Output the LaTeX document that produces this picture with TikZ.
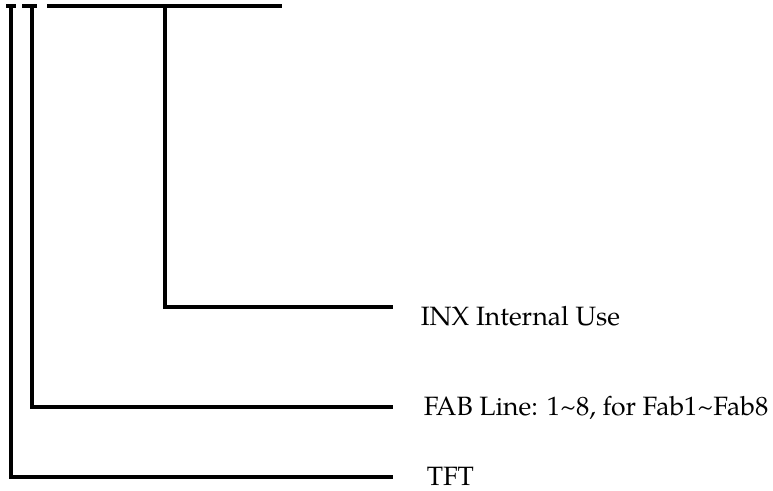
\documentclass[tikz,border=0pt]{standalone}
\usepackage{fontspec}
\setmainfont{TeX Gyre Pagella}
\usetikzlibrary{calc}

\begin{document}
\begin{tikzpicture}[x=1bp,y=-1bp,line width=3.5bp,
  lbl/.style={anchor=base west,inner sep=0pt,font=\fontsize{26.5bp}{30bp}\selectfont}]
\useasboundingbox (0,0) rectangle (773,491);
\draw (6,6) -- (16,6);
\draw (22,6) -- (37,6);
\draw (47,6) -- (282,6);
\coordinate (tft) at (11,6);
\coordinate (fab) at (32,6);
\coordinate (inx) at (165,6);
\coordinate (tftend) at (393,477);
\coordinate (fabend) at (393,407);
\coordinate (inxend) at (393,307);
\node[lbl] (tftlbl) at (425,485) {TFT};
\node[lbl] (fablbl) at (422,415) {FAB Line: 1\char`~8, for Fab1\char`~Fab8};
\node[lbl] (inxlbl) at (419,325) {INX Internal Use};
\draw (tft) |- (tftend);
\draw (fab) |- (fabend);
\draw (inx) |- (inxend);
\end{tikzpicture}
\end{document}
